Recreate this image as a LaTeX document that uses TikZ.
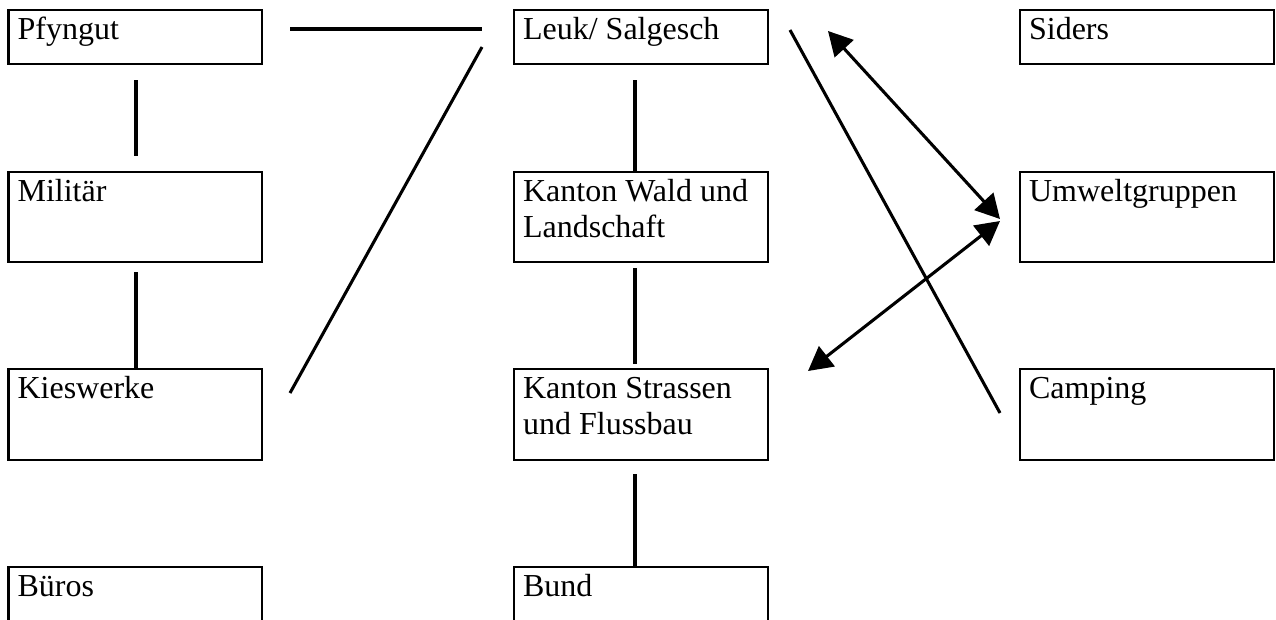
\documentclass[tikz,border=0pt]{standalone}
\usepackage{fontspec}
\setmainfont{Liberation Serif}
\usetikzlibrary{arrows.meta,fit,calc}
\begin{document}
\begin{tikzpicture}[x=0.375pt,y=-0.375pt,
  box/.style={draw,line width=1.1pt,inner sep=0pt},
  lbl/.style={anchor=base west,inner sep=0pt,font=\fontsize{12pt}{13.5pt}\selectfont},
  conn/.style={line width=1.15pt},
  dbl/.style={line width=1.15pt,{Triangle[length=9pt,width=9.5pt]}-{Triangle[length=9pt,width=9.5pt]}}]
\useasboundingbox (0,0) rectangle (1276,619);
\clip (0,0) rectangle (1276,619);
% boxes
\node[box,fit={(8.5,10)(262,64)}] (pfy) {};
\node[box,fit={(8.5,172)(262,262)}] (mil) {};
\node[box,fit={(8.5,369)(262,460)}] (kies) {};
\node[box,fit={(8.5,567)(262,660)}] (bur) {};
\node[box,fit={(514,10)(768,64)}] (leuk) {};
\node[box,fit={(514,172)(768,262)}] (wald) {};
\node[box,fit={(514,369)(768,460)}] (str) {};
\node[box,fit={(514,567)(768,660)}] (bund) {};
\node[box,fit={(1020,10)(1274,64)}] (sid) {};
\node[box,fit={(1020,172)(1274,262)}] (umw) {};
\node[box,fit={(1020,369)(1274,460)}] (camp) {};
% labels
\node[lbl] at ($(pfy.north west)+(10,31)$) {Pfyngut};
\node[lbl] at ($(mil.north west)+(10,31)$) {Militär};
\node[lbl] at ($(kies.north west)+(10,31)$) {Kieswerke};
\node[lbl] at ($(bur.north west)+(10,31)$) {Büros};
\node[lbl] at ($(leuk.north west)+(10,31)$) {Leuk/ Salgesch};
\node[lbl] at ($(wald.north west)+(10,31)$) {\begin{tabular}[t]{@{}l@{}}Kanton Wald und\\Landschaft\end{tabular}};
\node[lbl] at ($(str.north west)+(10,31)$) {\begin{tabular}[t]{@{}l@{}}Kanton Strassen\\und Flussbau\end{tabular}};
\node[lbl] at ($(bund.north west)+(10,31)$) {Bund};
\node[lbl] at ($(sid.north west)+(10,31)$) {Siders};
\node[lbl] at ($(umw.north west)+(10,31)$) {Umweltgruppen};
\node[lbl] at ($(camp.north west)+(10,31)$) {Camping};
% connector end points
\coordinate (a1) at (136,80);  \coordinate (a2) at (136,156);
\coordinate (b1) at (136,272); \coordinate (b2) at (136,369);
\coordinate (c1) at (290,29);  \coordinate (c2) at (482,29);
\coordinate (d1) at (290,393); \coordinate (d2) at (482,47);
\coordinate (e1) at (635,80);  \coordinate (e2) at (635,172);
\coordinate (f1) at (635,268); \coordinate (f2) at (635,364);
\coordinate (g1) at (635,474); \coordinate (g2) at (635,567);
\coordinate (h1) at (790,30);  \coordinate (h2) at (1000,413);
\coordinate (i1) at (828,31);  \coordinate (i2) at (1000,219);
\coordinate (j1) at (1000,221); \coordinate (j2) at (808,371);
% connectors
\draw[conn] (a1) -- (a2);
\draw[conn] (b1) -- (b2);
\draw[conn] (c1) -- (c2);
\draw[conn] (d1) -- (d2);
\draw[conn] (e1) -- (e2);
\draw[conn] (f1) -- (f2);
\draw[conn] (g1) -- (g2);
\draw[conn] (h1) -- (h2);
\draw[dbl] (i1) -- (i2);
\draw[dbl] (j1) -- (j2);
\end{tikzpicture}
\end{document}
